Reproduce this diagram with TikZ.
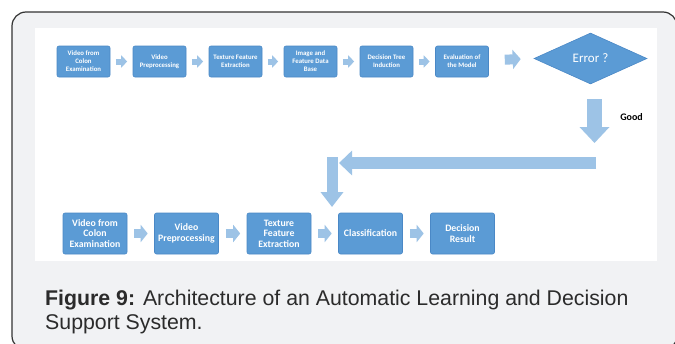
\documentclass[tikz,border=0pt]{standalone}
\usepackage{fontspec}
\setmainfont{Liberation Sans}
\newfontfamily\calfont{Carlito}
\usetikzlibrary{shapes.geometric,arrows.meta}
\definecolor{boxblue}{HTML}{5B9BD5}
\definecolor{boxedge}{HTML}{4A88C6}
\definecolor{arrblue}{HTML}{9DC3E6}
\definecolor{framegray}{HTML}{F1F2F4}
\definecolor{captxt}{HTML}{2B2B2B}
\begin{document}
\begin{tikzpicture}[x=1pt,y=-1pt,
  topbox/.style={draw=boxedge,fill=boxblue,rounded corners=2pt,minimum width=53pt,minimum height=31pt,inner sep=1pt,text=white,align=center,line width=0.6pt,font=\calfont\bfseries\fontsize{6.8}{8}\selectfont},
  botbox/.style={topbox,minimum width=64pt,minimum height=41pt,font=\calfont\bfseries\fontsize{9.8}{10.6}\selectfont},
  decbox/.style={diamond,draw=boxedge,fill=boxblue,line width=0.6pt,minimum width=113pt,minimum height=51pt,inner sep=0pt,text=white,font=\calfont\fontsize{13}{14}\selectfont},
  smallarr/.style={draw=arrblue,line width=6pt,-{Triangle[length=6pt,width=12pt]},shorten <=5.5pt,shorten >=5.5pt},
  botarr/.style={draw=arrblue,line width=9pt,-{Triangle[length=7pt,width=17pt]},shorten <=7pt,shorten >=6.5pt}
]
\useasboundingbox (0,0) rectangle (675,343);
\clip (0,0) rectangle (675,343);
\fill[white] (0,0) rectangle (675,343);
\draw[draw=black!80,fill=framegray,line width=1.2pt,rounded corners=14pt] (12,12) rectangle (677,350);
\fill[white] (35,28) rectangle (657,261);

% top row
\node[topbox] (t1) at (83.5,61.5) {Video from\\Colon\\Examination};
\node[topbox] (t2) at (159.5,61.5) {Video\\Preprocessing};
\node[topbox] (t3) at (235.5,61.5) {Texture Feature\\Extraction};
\node[topbox] (t4) at (310.5,61.5) {Image and\\Feature Data\\Base};
\node[topbox] (t5) at (386.5,61.5) {Decision Tree\\Induction};
\node[topbox] (t6) at (462,61.5) {Evaluation of\\the Model};
\node[decbox] (err) at (590.5,58.5) {Error ?};

\draw[smallarr] (t1) -- (t2);
\draw[smallarr] (t2) -- (t3);
\draw[smallarr] (t3) -- (t4);
\draw[smallarr] (t4) -- (t5);
\draw[smallarr] (t5) -- (t6);
\draw[draw=arrblue,line width=10pt,-{Triangle[length=8pt,width=19pt]},shorten <=16pt,shorten >=13pt] (t6) -- (err.west);

% return path
\coordinate (g0) at (594.5,99);
\coordinate (g1) at (594.5,143);
\coordinate (h0) at (596,163);
\coordinate (h1) at (339,163);
\coordinate (v0) at (332,157);
\coordinate (v1) at (332,207);
\draw[draw=arrblue,line width=15pt,-{Triangle[length=16pt,width=29pt]}] (g0) -- (g1);
\draw[draw=arrblue,line width=12pt,-{Triangle[length=13pt,width=24pt]}] (h0) -- (h1);
\draw[draw=arrblue,line width=11pt,-{Triangle[length=15pt,width=22pt]}] (v0) -- (v1);
\node[inner sep=0pt,font=\calfont\bfseries\fontsize{10}{12}\selectfont] (good) at (631.5,117.5) {Good};

% bottom row
\node[botbox] (b1) at (95,233.5) {Video from\\Colon\\Examination};
\node[botbox] (b2) at (186.5,233.5) {Video\\Preprocessing};
\node[botbox] (b3) at (279,233.5) {Texture\\Feature\\Extraction};
\node[botbox] (b4) at (370.5,233.5) {Classification};
\node[botbox] (b5) at (462.5,233.5) {Decision\\Result};
\draw[botarr] (b1) -- (b2);
\draw[botarr] (b2) -- (b3);
\draw[botarr] (b3) -- (b4);
\draw[botarr] (b4) -- (b5);

% caption
\node[anchor=base west,inner sep=0pt,align=left,text=captxt,font=\fontsize{21.3}{24}\selectfont] (cap) at (45,329)
 {\textbf{Figure 9:} Architecture of an Automatic Learning and Decision\\Support System.};
\end{tikzpicture}
\end{document}
